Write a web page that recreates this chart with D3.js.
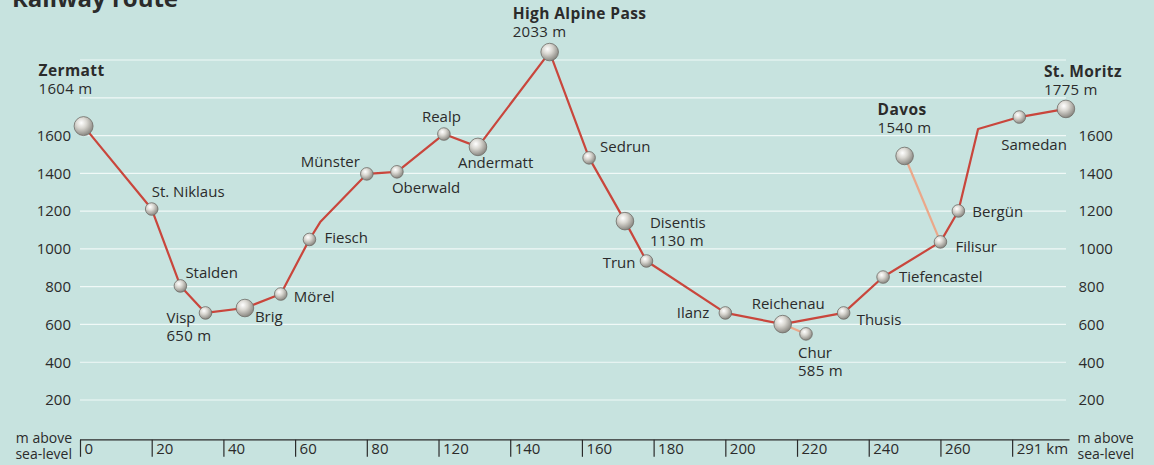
<!DOCTYPE html>
<html>
<head>
<meta charset="utf-8">
<script src="https://cdn.jsdelivr.net/npm/d3@7"></script>
<style>
  html, body { margin: 0; padding: 0; background: #c7e3df; }
  svg { display: block; }
  text { font-family: "Open Sans", "DejaVu Sans", sans-serif; fill: #2b2b2b; }
</style>
</head>
<body>
<svg id="chart" width="1154" height="465"></svg>
<script>
// ---------------- DATA ----------------
// main route, in order (x = position along the axis scale, elev = metres as drawn)
const routeNames = ["Zermatt","St. Niklaus","Stalden","Visp","Brig","Mörel","Fiesch","",
  "Münster","Oberwald","Realp","Andermatt","High Alpine Pass","Sedrun","Disentis","Trun",
  "Ilanz","Reichenau","Thusis","Tiefencastel","Filisur","Bergün","","Samedan","St. Moritz"];
const routeKm = [1, 20, 28, 35, 46, 56, 64, 67, 80, 88.4, 101.5, 111, 131, 142, 152, 158,
  180, 196, 213, 224, 240, 245, 250.5, 262, 275];
const routeElev = [1650, 1211, 804, 661, 687, 761, 1050, 1142, 1397, 1408, 1608, 1540, 2042,
  1482, 1147, 936, 661, 602, 661, 851, 1037, 1201, 1635, 1698, 1741];

// branch lines
const branchFrom = ["Reichenau", "Filisur"];
const branchTo = ["Chur", "Davos"];
const branchKm = [202.5, 230];
const branchElev = [550, 1492];

// stations shown with the large ball
const bigStations = ["Zermatt","Brig","Andermatt","High Alpine Pass","Disentis","Reichenau","Davos","St. Moritz"];
// bold titled stations and stations with an altitude caption
const boldStations = ["Zermatt","High Alpine Pass","St. Moritz","Davos"];
const captionNames = ["Zermatt","Visp","High Alpine Pass","Disentis","Chur","Davos","St. Moritz"];
const captionText = ["1604 m","650 m","2033 m","1130 m","585 m","1540 m","1775 m"];

// axes
const xTickValues = [0,20,40,60,80,100,120,140,160,180,200,220,240,260];
const xTickLabels = ["0","20","40","60","80","120","140","160","180","200","220","240","260","291 km"];
const yGridValues = [200,400,600,800,1000,1200,1400,1600,1800,2000];
const yLabelValues = [200,400,600,800,1000,1200,1400,1600];
const titleText = "Railway route";
const unitLines = ["m above","sea-level"];

// ---------------- LAYOUT (label offsets from the ball, px) ----------------
const labelLayout = {
  "Zermatt":        {dx:-45, dy:-50, anchor:"start"},
  "St. Niklaus":    {dx:0,   dy:-12, anchor:"start"},
  "Stalden":        {dx:5,   dy:-8,  anchor:"start"},
  "Visp":           {dx:-39, dy:10,  anchor:"start"},
  "Brig":           {dx:10,  dy:14,  anchor:"start"},
  "Mörel":          {dx:13,  dy:8,   anchor:"start"},
  "Fiesch":         {dx:15,  dy:4,   anchor:"start"},
  "Münster":        {dx:-7,  dy:-7,  anchor:"end"},
  "Oberwald":       {dx:-5,  dy:21,  anchor:"start"},
  "Realp":          {dx:-22, dy:-12, anchor:"start"},
  "Andermatt":      {dx:-20, dy:21,  anchor:"start"},
  "High Alpine Pass":{dx:-37,dy:-33, anchor:"start"},
  "Sedrun":         {dx:11,  dy:-6,  anchor:"start"},
  "Disentis":       {dx:25,  dy:7,   anchor:"start"},
  "Trun":           {dx:-11, dy:7,   anchor:"end"},
  "Ilanz":          {dx:-16, dy:5,   anchor:"end"},
  "Reichenau":      {dx:-31, dy:-15, anchor:"start"},
  "Chur":           {dx:-8,  dy:24,  anchor:"start"},
  "Thusis":         {dx:13,  dy:12,  anchor:"start"},
  "Tiefencastel":   {dx:16,  dy:5,   anchor:"start"},
  "Filisur":        {dx:15,  dy:10,  anchor:"start"},
  "Bergün":         {dx:14,  dy:6,   anchor:"start"},
  "Samedan":        {dx:-18, dy:33,  anchor:"start"},
  "St. Moritz":     {dx:-22, dy:-32, anchor:"start"},
  "Davos":          {dx:-27, dy:-41, anchor:"start"}
};

// ---------------- DRAW ----------------
const svg = d3.select("#chart");
const W = 1154, H = 465;
svg.append("rect").attr("width", W).attr("height", H).attr("fill", "#c7e3df");

const x = d3.scaleLinear().domain([0, 276]).range([80, 1069.5]);
const y = d3.scaleLinear().domain([0, 2000]).range([437.8, 60]);
const gridEnd = 1066;

const defs = svg.append("defs");
const grad = defs.append("radialGradient").attr("id", "ball")
  .attr("cx", "38%").attr("cy", "33%").attr("r", "70%");
grad.append("stop").attr("offset", "0%").attr("stop-color", "#ffffff");
grad.append("stop").attr("offset", "40%").attr("stop-color", "#d9d7d1");
grad.append("stop").attr("offset", "100%").attr("stop-color", "#85837d");

// title (cropped at top, as in the reference)
svg.append("text").attr("x", 12).attr("y", 7)
  .attr("font-size", 24).attr("font-weight", "bold").attr("fill", "#2a2a2a")
  .text(titleText);

// gridlines
svg.append("g").selectAll("line").data(yGridValues).join("line")
  .attr("x1", x(0)).attr("x2", gridEnd)
  .attr("y1", d => y(d)).attr("y2", d => y(d))
  .attr("stroke", "#f4fbfa").attr("stroke-width", 1.2).attr("stroke-opacity", 0.9);

// left / right value labels
const yLeft = d3.axisLeft(y).tickValues(yLabelValues).tickSize(0).tickPadding(9).tickFormat(d3.format("d"));
const gl = svg.append("g").attr("transform", `translate(${x(0)},0)`).call(yLeft);
gl.select(".domain").remove();
gl.selectAll("text").attr("font-size", 15).attr("fill", "#2b2b2b")
  .attr("font-family", "Open Sans, DejaVu Sans, sans-serif");

const yRight = d3.axisRight(y).tickValues(yLabelValues).tickSize(0).tickPadding(9).tickFormat(d3.format("d"));
const gr = svg.append("g").attr("transform", `translate(${x(276)},0)`).call(yRight);
gr.select(".domain").remove();
gr.selectAll("text").attr("font-size", 15).attr("fill", "#2b2b2b")
  .attr("font-family", "Open Sans, DejaVu Sans, sans-serif");

// bottom axis
const xAxis = d3.axisBottom(x).tickValues(xTickValues).tickSize(17)
  .tickFormat((d, i) => xTickLabels[i]);
const gx = svg.append("g").attr("transform", `translate(0,${y(0) + 2})`).call(xAxis);
gx.select(".domain").attr("d", `M${x(0)},0H${x(276)}`).attr("stroke", "#2b2b2b").attr("stroke-width", 1.3);
gx.selectAll(".tick line").attr("stroke", "#2b2b2b").attr("stroke-width", 1.2);
gx.selectAll(".tick text").attr("x", 4).attr("y", 4).attr("dy", "0.71em")
  .attr("text-anchor", "start").attr("font-size", 15).attr("fill", "#2b2b2b")
  .attr("font-family", "Open Sans, DejaVu Sans, sans-serif");

// unit captions
unitLines.forEach((t, i) => {
  svg.append("text").attr("text-anchor", "end").attr("font-size", 14)
    .attr("x", x(0) - 8).attr("y", y(0) + 5 + i * 16.5).text(t);
  svg.append("text").attr("text-anchor", "start").attr("font-size", 14)
    .attr("x", x(276) + 8).attr("y", y(0) + 5 + i * 16.5).text(t);
});

// build station table
const stations = routeNames.map((n, i) => ({name: n, km: routeKm[i], elev: routeElev[i]}));
branchTo.forEach((n, i) => stations.push({name: n, km: branchKm[i], elev: branchElev[i], from: branchFrom[i]}));
const byName = {};
stations.forEach(s => { if (s.name) byName[s.name] = s; });

// branch lines
const line = d3.line().x(d => x(d.km)).y(d => y(d.elev));
svg.append("g").selectAll("path").data(branchTo.map((n, i) => [byName[branchFrom[i]], byName[n]]))
  .join("path").attr("d", line).attr("fill", "none")
  .attr("stroke", "#eba88a").attr("stroke-width", 2.2);

// main line
svg.append("path").datum(stations.slice(0, routeNames.length)).attr("d", line)
  .attr("fill", "none").attr("stroke", "#c9463c").attr("stroke-width", 2.2)
  .attr("stroke-linejoin", "round");

// balls
const named = stations.filter(s => s.name);
svg.append("g").selectAll("circle").data(named).join("circle")
  .attr("cx", d => x(d.km)).attr("cy", d => y(d.elev))
  .attr("r", d => bigStations.includes(d.name) ? (d.name === "Zermatt" ? 9.5 : 8.8) : 6.3)
  .attr("fill", "url(#ball)").attr("stroke", "#6e6c67").attr("stroke-width", 0.8);

// labels
const lg = svg.append("g");
named.forEach(s => {
  const L = labelLayout[s.name];
  const bx = x(s.km) + L.dx, by = y(s.elev) + L.dy;
  const bold = boldStations.includes(s.name);
  lg.append("text").attr("x", bx).attr("y", by).attr("text-anchor", L.anchor)
    .attr("font-size", bold ? 15.5 : 15).attr("font-weight", bold ? "bold" : "normal")
    .attr("letter-spacing", bold ? 0.4 : 0)
    .text(s.name);
  const ci = captionNames.indexOf(s.name);
  if (ci >= 0) {
    lg.append("text").attr("x", bx).attr("y", by + 18).attr("text-anchor", L.anchor)
      .attr("font-size", 15).attr("letter-spacing", 0.3).text(captionText[ci]);
  }
});
</script>
</body>
</html>
